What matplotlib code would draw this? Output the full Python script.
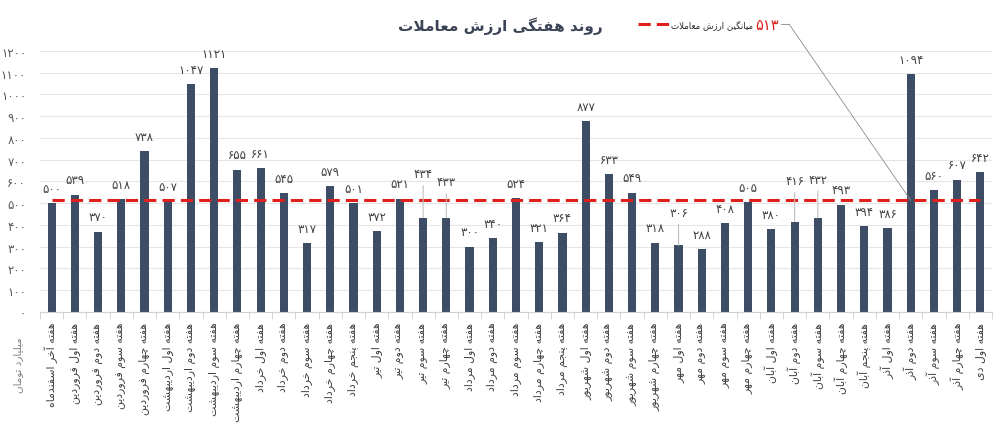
import numpy as np
import matplotlib
matplotlib.use('Agg')
import matplotlib.pyplot as plt
from matplotlib.lines import Line2D

plt.rcParams['font.family'] = ['DejaVu Sans']

weeks = [
    'هفته آخر اسفندماه', 'هفته اول فروردین', 'هفته دوم فروردین', 'هفته سوم فروردین',
    'هفته چهارم فروردین', 'هفته اول اردیبهشت', 'هفته دوم اردیبهشت', 'هفته سوم اردیبهشت',
    'هفته چهارم اردیبهشت', 'هفته اول خرداد', 'هفته دوم خرداد', 'هفته سوم خرداد',
    'هفته چهارم خرداد', 'هفته پنجم خرداد', 'هفته اول تیر', 'هفته دوم تیر',
    'هفته سوم تیر', 'هفته چهارم تیر', 'هفته اول مرداد', 'هفته دوم مرداد',
    'هفته سوم مرداد', 'هفته چهارم مرداد', 'هفته پنجم مرداد', 'هفته اول شهریور',
    'هفته دوم شهریور', 'هفته سوم شهریور', 'هفته چهارم شهریور', 'هفته اول مهر',
    'هفته دوم مهر', 'هفته سوم مهر', 'هفته چهارم مهر', 'هفته اول آبان',
    'هفته دوم آبان', 'هفته سوم آبان', 'هفته چهارم آبان', 'هفته پنجم آبان',
    'هفته اول آذر', 'هفته دوم آذر', 'هفته سوم آذر', 'هفته چهارم آذر', 'هفته اول دی',
]
values = [500, 539, 370, 518, 738, 507, 1047, 1121, 655, 661, 545, 317, 579, 501,
          372, 521, 434, 433, 300, 340, 524, 321, 364, 877, 633, 549, 318, 306,
          288, 408, 505, 380, 416, 432, 493, 394, 386, 1094, 560, 607, 642]
mean_value = 513
yticks = list(range(0, 1300, 100))

title = 'روند هفتگی ارزش معاملات'
legend_text = 'میانگین ارزش معاملات'
ylabel = 'میلیارد تومان'

# labels lifted higher with a thin leader line (index: offset in px)
leader_px = {16: 44, 17: 36, 27: 33, 32: 41, 33: 39}

FA_DIGITS = str.maketrans('0123456789', '۰۱۲۳۴۵۶۷۸۹')

# arabic presentation forms: isolated, final, initial, medial
FORMS = {
    'ا': ('\uFE8D', '\uFE8E'), 'آ': ('\uFE81', '\uFE82'),
    'ب': ('\uFE8F', '\uFE90', '\uFE91', '\uFE92'),
    'پ': ('\uFB56', '\uFB57', '\uFB58', '\uFB59'),
    'ت': ('\uFE95', '\uFE96', '\uFE97', '\uFE98'),
    'ج': ('\uFE9D', '\uFE9E', '\uFE9F', '\uFEA0'),
    'چ': ('\uFB7A', '\uFB7B', '\uFB7C', '\uFB7D'),
    'خ': ('\uFEA5', '\uFEA6', '\uFEA7', '\uFEA8'),
    'د': ('\uFEA9', '\uFEAA'), 'ذ': ('\uFEAB', '\uFEAC'),
    'ر': ('\uFEAD', '\uFEAE'), 'ز': ('\uFEAF', '\uFEB0'),
    'ژ': ('\uFB8A', '\uFB8B'),
    'س': ('\uFEB1', '\uFEB2', '\uFEB3', '\uFEB4'),
    'ش': ('\uFEB5', '\uFEB6', '\uFEB7', '\uFEB8'),
    'ع': ('\uFEC9', '\uFECA', '\uFECB', '\uFECC'),
    'ف': ('\uFED1', '\uFED2', '\uFED3', '\uFED4'),
    'ک': ('\uFB8E', '\uFB8F', '\uFB90', '\uFB91'),
    'گ': ('\uFB92', '\uFB93', '\uFB94', '\uFB95'),
    'ل': ('\uFEDD', '\uFEDE', '\uFEDF', '\uFEE0'),
    'م': ('\uFEE1', '\uFEE2', '\uFEE3', '\uFEE4'),
    'ن': ('\uFEE5', '\uFEE6', '\uFEE7', '\uFEE8'),
    'ه': ('\uFEE9', '\uFEEA', '\uFEEB', '\uFEEC'),
    'و': ('\uFEED', '\uFEEE'),
    'ی': ('\uFBFC', '\uFBFD', '\uFBFE', '\uFBFF'),
}
LAM_ALEF = {'ا': ('\uFEFB', '\uFEFC'), 'آ': ('\uFEF5', '\uFEF6')}


def fa(text):
    # poor man's reshaper + rtl reorder (no bidi libs here)
    out = []
    prev_joins = False
    i = 0
    while i < len(text):
        c = text[i]
        if c not in FORMS:
            out.append(c)
            prev_joins = False
            i += 1
            continue
        nxt = text[i + 1] if i + 1 < len(text) else ''
        if c == 'ل' and nxt in LAM_ALEF:
            out.append(LAM_ALEF[nxt][1 if prev_joins else 0])
            prev_joins = False
            i += 2
            continue
        f = FORMS[c]
        joins_next = len(f) == 4 and nxt in FORMS
        if prev_joins and joins_next:
            g = f[3]
        elif prev_joins:
            g = f[1]
        elif joins_next:
            g = f[2]
        else:
            g = f[0]
        out.append(g)
        prev_joins = joins_next
        i += 1
    return ''.join(reversed(out))


def fa_num(v):
    return str(v).translate(FA_DIGITS)


bar_color = '#3d4d66'
px2pt = 0.72

fig = plt.figure(figsize=(10, 4.35), dpi=100)
ax = fig.add_axes([0.04, 0.2805, 0.952, 0.6])

x = np.arange(len(values))
ax.bar(x, values, width=0.35, color=bar_color, zorder=2)
ax.plot([x[0], x[-1]], [mean_value, mean_value], color='#e0201c', lw=2.2,
        dashes=(4, 2), zorder=3)

for i, v in enumerate(values):
    if i in leader_px:
        ax.annotate(fa_num(v), (i, v), xytext=(0, leader_px[i] * px2pt),
                    textcoords='offset points', ha='center', va='center',
                    fontsize=8.5, color='#404040',
                    arrowprops=dict(arrowstyle='-', color='#bfbfbf', lw=0.8,
                                    relpos=(0.5, 0), shrinkA=2, shrinkB=0))
    else:
        ax.annotate(fa_num(v), (i, v), xytext=(0, 15 * px2pt),
                    textcoords='offset points', ha='center', va='center',
                    fontsize=8.5, color='#404040')

ax.set_xlim(-0.5, len(values) - 0.5)
ax.set_ylim(0, 1200)
ax.set_yticks(yticks)
ax.set_yticklabels([fa_num(t) for t in yticks], fontsize=8.5, color='#595959')
ax.tick_params(axis='y', length=0, pad=10)
ax.grid(axis='y', color='#e6e6e6', lw=0.8, zorder=0)
ax.set_axisbelow(True)

ax.set_xticks(x)
ax.set_xticklabels([fa(w) for w in weeks], rotation=90, fontsize=7.8,
                   color='#404040', va='top', ha='center')
ax.set_xticks(np.arange(-0.5, len(values), 1), minor=True)
ax.tick_params(axis='x', which='major', length=0, pad=7)
ax.tick_params(axis='x', which='minor', length=5, color='#d0d0d0')
for s in ['top', 'right', 'left']:
    ax.spines[s].set_visible(False)
ax.spines['bottom'].set_color('#d0d0d0')

fig.text(0.5, 1 - 26 / 435, fa(title), ha='center', va='center',
         fontsize=11, fontweight='bold', color='#3b4456')
fig.text(0.018, 1 - 365 / 435, fa(ylabel), rotation=90, ha='center',
         va='center', fontsize=7.5, color='#7f7f7f')

# legend for mean line
ly = 1 - 25 / 435
fig.add_artist(Line2D([0.638, 0.672], [ly, ly], color='#e0201c', lw=2.2,
                      dashes=(4, 2)))
fig.text(0.753, ly, fa(legend_text), ha='right', va='center', fontsize=6.2,
         color='#262626')
fig.text(0.755, ly, fa_num(mean_value), ha='left', va='center', fontsize=10.5,
         color='#e0201c')
fig.add_artist(Line2D([0.781, 0.789], [ly, ly], color='#8c8c8c', lw=0.6))
ax.annotate('', xy=(37, mean_value), xycoords='data',
            xytext=(0.789, ly), textcoords='figure fraction',
            arrowprops=dict(arrowstyle='-', color='#8c8c8c', lw=0.6,
                            shrinkA=0, shrinkB=0))

fig.savefig('out.png', dpi=100)
